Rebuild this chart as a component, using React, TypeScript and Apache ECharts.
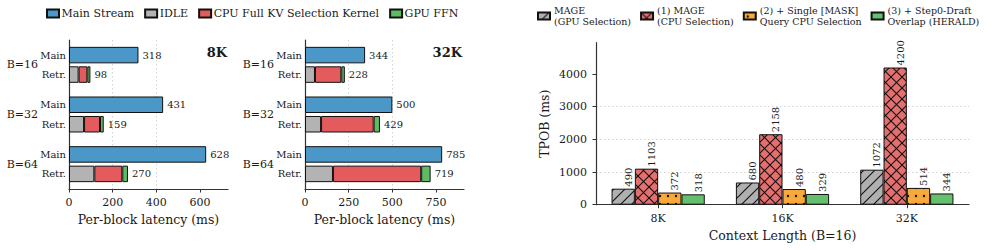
import { useEffect, useRef } from "react";
import * as echarts from "echarts";

// Per-block latency breakdown, B = batch size
const groups = ["B=16", "B=32", "B=64"];
const main8k = [318, 431, 628];
const idle8k = [44, 69, 116];
const cpu8k = [40, 73, 128];
const ffn8k = [14, 17, 26];
const main32k = [344, 500, 785];
const idle32k = [57, 92, 160];
const cpu32k = [151, 301, 505];
const ffn32k = [20, 36, 54];
const latencyTicks8k = [0, 200, 400, 600];
const latencyTicks32k = [0, 250, 500, 750];

// TPOB ablation at B=16
const contexts = ["8K", "16K", "32K"];
const mageGpu = [490, 680, 1072];
const mageCpu = [1103, 2158, 4200];
const singleMask = [372, 480, 514];
const herald = [318, 329, 344];
const tpobTicks = [0, 1000, 2000, 3000, 4000];

const FONT = "DejaVu Serif";
const INK = "#1a1a1a";
const SPINE = "#333333";
const EDGE = "#111111";

const C_MAIN = "#4a97c8";
const C_IDLE = "#b3b3b3";
const C_CPU = "#e45b5d";
const C_FFN = "#5dbb63";
const C_R_GPU = "#b0b0b0";
const C_R_CPU = "#e3706f";
const C_R_MASK = "#f8a93a";
const C_R_HERALD = "#66bf6e";

type Hatch = "diag" | "cross" | "dots";

function hatchFill(bg: string, kind: Hatch, size: number) {
  const c = document.createElement("canvas");
  c.width = size;
  c.height = size;
  const g = c.getContext("2d")!;
  g.fillStyle = bg;
  g.fillRect(0, 0, size, size);
  g.strokeStyle = "#111";
  g.fillStyle = "#111";
  g.lineWidth = 1.1;
  const line = (x1: number, y1: number, x2: number, y2: number) => {
    g.beginPath();
    g.moveTo(x1, y1);
    g.lineTo(x2, y2);
    g.stroke();
  };
  if (kind === "diag" || kind === "cross") {
    line(-1, size + 1, size + 1, -1);
    line(-1, 1, 1, -1);
    line(size - 1, size + 1, size + 1, size - 1);
  }
  if (kind === "cross") {
    line(-1, -1, size + 1, size + 1);
    line(size - 1, -1, size + 1, 1);
    line(-1, size - 1, 1, size + 1);
  }
  if (kind === "dots") {
    g.beginPath();
    g.arc(size / 2, size / 2, 1.2, 0, Math.PI * 2);
    g.fill();
  }
  return { image: c, repeat: "repeat" } as any;
}

const baseText = { fontFamily: FONT, color: INK };

function latencyPanel(
  idx: number,
  mainVals: number[],
  idle: number[],
  cpu: number[],
  ffn: number[],
  ticks: number[],
  max: number
) {
  const totals = idle.map((v, i) => v + cpu[i] + ffn[i]);
  const common = {
    type: "bar",
    xAxisIndex: idx,
    yAxisIndex: idx,
    barWidth: 16.5,
    barGap: "18%",
  };
  const edge = { borderColor: EDGE, borderWidth: 1 };
  const interval = ticks[1] - ticks[0];
  const xAxis = {
    type: "value",
    gridIndex: idx,
    min: 0,
    max,
    interval,
    axisLine: { show: true, lineStyle: { color: SPINE, width: 1.2 } },
    axisTick: { show: true, length: 3.5, lineStyle: { color: SPINE }, customValues: ticks },
    axisLabel: { ...baseText, fontSize: 11, margin: 8, customValues: ticks },
    splitLine: {
      show: true,
      showMaxLine: false,
      lineStyle: { color: "#c8c8c8", type: [1.5, 2.5], width: 0.8 },
    },
    name: "Per-block latency (ms)",
    nameLocation: "middle",
    nameGap: 24,
    nameTextStyle: { ...baseText, fontSize: 12.5 },
  };
  const yAxis = {
    type: "category",
    gridIndex: idx,
    data: groups,
    inverse: true,
    axisLine: { show: true, lineStyle: { color: SPINE, width: 1.2 } },
    axisTick: { show: false },
    axisLabel: { ...baseText, fontSize: 11, margin: 31 },
    splitLine: { show: false },
  };
  const series = [
    {
      ...common,
      name: `main-tag-${idx}`,
      stack: `main${idx}`,
      data: mainVals.map(() => 0),
      itemStyle: { color: "transparent", borderWidth: 0 },
      label: { show: true, position: "left", distance: 3, formatter: "Main", ...baseText, fontSize: 10 },
      silent: true,
    },
    {
      ...common,
      name: "Main Stream",
      stack: `main${idx}`,
      data: mainVals,
      itemStyle: { color: C_MAIN, ...edge },
      label: { show: true, position: "right", distance: 4, ...baseText, fontSize: 10 },
    },
    {
      ...common,
      name: "IDLE",
      stack: `retr${idx}`,
      data: idle,
      itemStyle: { color: C_IDLE, ...edge },
      label: { show: true, position: "left", distance: 3, formatter: "Retr.", ...baseText, fontSize: 10 },
    },
    {
      ...common,
      name: "CPU Full KV Selection Kernel",
      stack: `retr${idx}`,
      data: cpu,
      itemStyle: { color: C_CPU, ...edge },
    },
    {
      ...common,
      name: "GPU FFN",
      stack: `retr${idx}`,
      data: ffn,
      itemStyle: { color: C_FFN, ...edge },
      label: {
        show: true,
        position: "right",
        distance: 4,
        formatter: (p: any) => String(totals[p.dataIndex]),
        ...baseText,
        fontSize: 10,
      },
    },
  ];
  return { xAxis, yAxis, series };
}

function buildOption() {
  const p8 = latencyPanel(0, main8k, idle8k, cpu8k, ffn8k, latencyTicks8k, 728);
  const p32 = latencyPanel(1, main32k, idle32k, cpu32k, ffn32k, latencyTicks32k, 910);

  const rightCommon = {
    type: "bar",
    xAxisIndex: 2,
    yAxisIndex: 2,
    barWidth: 23.3,
    barGap: "0%",
    label: {
      show: true,
      position: "top",
      rotate: 90,
      align: "left",
      verticalAlign: "middle",
      distance: 2,
      offset: [0, 5],
      ...baseText,
      fontSize: 10,
    },
  };
  const edge = { borderColor: EDGE, borderWidth: 1 };
  const rightNames = [
    "MAGE\n(GPU Selection)",
    "(1) MAGE\n(CPU Selection)",
    "(2) + Single [MASK]\nQuery CPU Selection",
    "(3) + Step0-Draft\nOverlap (HERALD)",
  ];

  return {
    animation: false,
    textStyle: { fontFamily: FONT },
    title: [
      {
        text: "8K",
        right: 997 - 227,
        top: 46,
        padding: 0,
        textStyle: { fontFamily: FONT, fontWeight: "bold", fontSize: 13, color: INK },
      },
      {
        text: "32K",
        right: 997 - 462,
        top: 46,
        padding: 0,
        textStyle: { fontFamily: FONT, fontWeight: "bold", fontSize: 13, color: INK },
      },
    ],
    legend: [
      {
        data: ["Main Stream", "IDLE", "CPU Full KV Selection Kernel", "GPU FFN"],
        left: 46,
        top: 8,
        padding: 0,
        itemWidth: 12,
        itemHeight: 8,
        itemGap: 10,
        icon: "rect",
        selectedMode: false,
        textStyle: { ...baseText, fontSize: 11, padding: [0, 0, 0, -2.5] },
      },
      {
        data: rightNames,
        left: 537,
        width: 458,
        top: 5,
        padding: 0,
        itemWidth: 12,
        itemHeight: 7,
        itemGap: 9,
        icon: "rect",
        selectedMode: false,
        textStyle: { ...baseText, fontSize: 9.5, lineHeight: 11, padding: [0, 0, 0, -1] },
      },
    ],
    grid: [
      { left: 69, top: 40, width: 159, height: 149 },
      { left: 305, top: 40, width: 159, height: 149 },
      { left: 596, top: 42.7, right: 28, bottom: 45.3 },
    ],
    xAxis: [
      p8.xAxis,
      p32.xAxis,
      {
        type: "category",
        gridIndex: 2,
        data: contexts,
        axisLine: { show: true, lineStyle: { color: SPINE, width: 1.2 } },
        axisTick: { show: true, alignWithLabel: true, length: 3.5, lineStyle: { color: SPINE } },
        axisLabel: { ...baseText, fontSize: 11, margin: 8 },
        name: "Context Length (B=16)",
        nameLocation: "middle",
        nameGap: 24,
        nameTextStyle: { ...baseText, fontSize: 12.5 },
      },
    ],
    yAxis: [
      p8.yAxis,
      p32.yAxis,
      {
        type: "value",
        gridIndex: 2,
        min: 0,
        max: 4960,
        interval: 1000,
        axisLine: { show: true, lineStyle: { color: SPINE, width: 1.2 } },
        axisTick: { show: true, length: 3.5, lineStyle: { color: SPINE }, customValues: tpobTicks },
        axisLabel: {
          ...baseText,
          fontSize: 11,
          margin: 9,
          customValues: tpobTicks,
          formatter: (v: number) => String(v),
        },
        splitLine: {
          show: true,
          showMaxLine: false,
          lineStyle: { color: "#c8c8c8", type: [1.5, 2.5], width: 0.8 },
        },
        name: "TPOB (ms)",
        nameLocation: "middle",
        nameGap: 45,
        nameTextStyle: { ...baseText, fontSize: 12.5 },
      },
    ],
    series: [
      ...p8.series,
      ...p32.series,
      {
        ...rightCommon,
        name: rightNames[0],
        data: mageGpu,
        itemStyle: { color: hatchFill(C_R_GPU, "diag", 11), ...edge },
      },
      {
        ...rightCommon,
        name: rightNames[1],
        data: mageCpu,
        itemStyle: { color: hatchFill(C_R_CPU, "cross", 11), ...edge },
      },
      {
        ...rightCommon,
        name: rightNames[2],
        data: singleMask,
        itemStyle: { color: hatchFill(C_R_MASK, "dots", 8), ...edge },
      },
      {
        ...rightCommon,
        name: rightNames[3],
        data: herald,
        itemStyle: { color: C_R_HERALD, ...edge },
      },
    ],
  };
}

export default function App() {
  const ref = useRef<HTMLDivElement>(null);
  useEffect(() => {
    if (!ref.current) return;
    const chart = echarts.init(ref.current, undefined, { renderer: "svg" });
    chart.setOption(buildOption() as any);
    return () => chart.dispose();
  }, []);
  return (
    <div
      ref={ref}
      style={{ position: "fixed", left: 0, top: 0, width: 997, height: 250, background: "#fff" }}
    />
  );
}
